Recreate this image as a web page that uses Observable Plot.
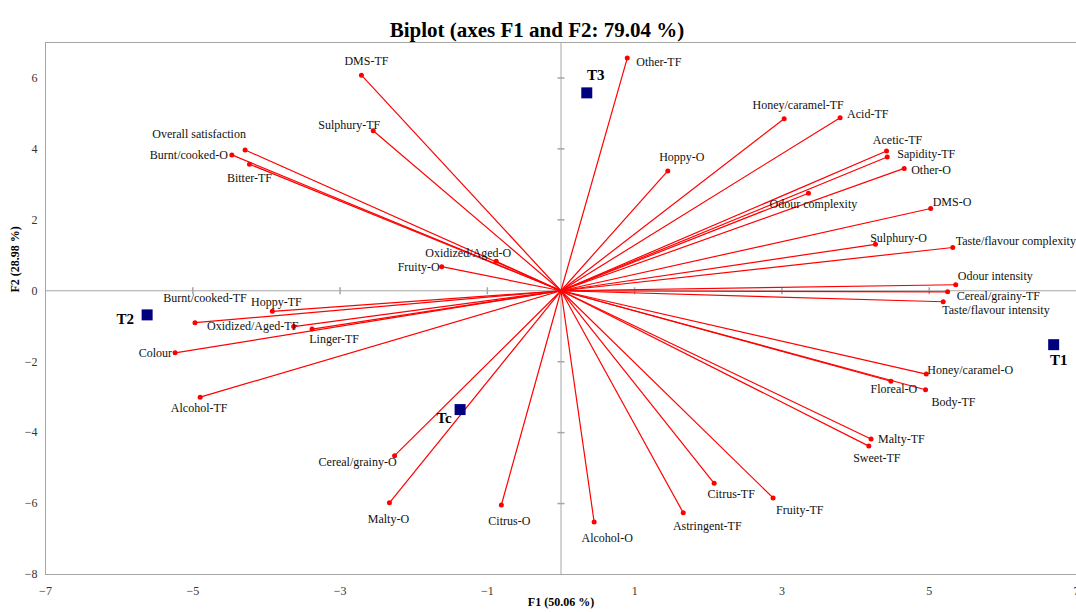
<!DOCTYPE html>
<html>
<head>
<meta charset="utf-8">
<script src="https://cdn.jsdelivr.net/npm/d3@7"></script>
<script src="https://cdn.jsdelivr.net/npm/@observablehq/plot@0.6"></script>
<style>
  html, body { margin: 0; padding: 0; background: #fff; }
  #chart svg { display: block; }
</style>
</head>
<body>
<div id="chart"></div>
<script>
// ---- Data ----
const varNames = ["DMS-TF","Sulphury-TF","Overall satisfaction","Burnt/cooked-O","Bitter-TF","Oxidized/Aged-O","Fruity-O","Hoppy-O","Other-TF","Honey/caramel-TF","Acid-TF","Acetic-TF","Sapidity-TF","Other-O","Odour complexity","DMS-O","Sulphury-O","Taste/flavour complexity","Odour intensity","Cereal/grainy-TF","Taste/flavour intensity","Honey/caramel-O","Floreal-O","Body-TF","Malty-TF","Sweet-TF","Citrus-TF","Fruity-TF","Astringent-TF","Alcohol-O","Citrus-O","Malty-O","Cereal/grainy-O","Alcohol-TF","Colour","Burnt/cooked-TF","Hoppy-TF","Oxidized/Aged-TF","Linger-TF"];
const varF1 = [-2.71,-2.55,-4.29,-4.47,-4.23,-0.88,-1.62,1.45,0.90,3.03,3.79,4.42,4.43,4.66,3.36,5.02,4.27,5.32,5.36,5.25,5.19,4.96,4.48,4.95,4.21,4.18,2.08,2.88,1.66,0.45,-0.81,-2.33,-2.26,-4.90,-5.24,-4.97,-3.92,-3.63,-3.38];
const varF2 = [6.08,4.51,3.97,3.83,3.57,0.83,0.68,3.38,6.56,4.85,4.88,3.94,3.77,3.45,2.75,2.32,1.31,1.22,0.17,-0.03,-0.31,-2.35,-2.55,-2.79,-4.18,-4.38,-5.43,-5.84,-6.26,-6.52,-6.04,-5.98,-4.65,-3.00,-1.75,-0.90,-0.58,-1.01,-1.08];

const obsNames = ["T1","T2","T3","Tc"];
const obsF1 = [6.69,-5.62,0.35,-1.37];
const obsF2 = [-1.52,-0.68,5.58,-3.35];

const xTicks = [-7,-5,-3,-1,1,3,5,7];
const yTicks = [-8,-6,-4,-2,0,2,4,6];
const axisMarksX = [-5,-3,-1,1,3,5];
const axisMarksY = [-6,-4,-2,2,4,6];

const title = "Biplot (axes F1 and F2: 79.04 %)";
const xLabel = "F1 (50.06 %)";
const yLabel = "F2 (28.98 %)";

// ---- Layout (label offsets in px, anchor) ----
const labelPlace = {
  "DMS-TF":[5,-14,"middle"], "Sulphury-TF":[-24,-6,"middle"], "Overall satisfaction":[-46,-16,"middle"],
  "Burnt/cooked-O":[-4,0,"end"], "Bitter-TF":[0,14,"middle"], "Oxidized/Aged-O":[-28,-8,"middle"],
  "Fruity-O":[-2,1,"end"], "Hoppy-O":[14,-14,"middle"], "Other-TF":[9,4,"start"],
  "Honey/caramel-TF":[14,-14,"middle"], "Acid-TF":[7,-4,"start"], "Acetic-TF":[11,-10.5,"middle"],
  "Sapidity-TF":[10,-3,"start"], "Other-O":[7,2,"start"], "Odour complexity":[5,11,"middle"],
  "DMS-O":[2,-6,"start"], "Sulphury-O":[23,-6,"middle"], "Taste/flavour complexity":[3,-6,"start"],
  "Odour intensity":[2,-9,"start"], "Cereal/grainy-TF":[9,4,"start"], "Taste/flavour intensity":[-1,8,"start"],
  "Honey/caramel-O":[1,-4,"start"], "Floreal-O":[3,8,"middle"], "Body-TF":[6,12,"start"],
  "Malty-TF":[7,0,"start"], "Sweet-TF":[8,12,"middle"], "Citrus-TF":[17,11,"middle"],
  "Fruity-TF":[3,12,"start"], "Astringent-TF":[24,13,"middle"], "Alcohol-O":[13,16,"middle"],
  "Citrus-O":[8,16,"middle"], "Malty-O":[-1,16,"middle"], "Cereal/grainy-O":[-37,6,"middle"],
  "Alcohol-TF":[-1,11,"middle"], "Colour":[-3,0,"end"], "Burnt/cooked-TF":[10,-25,"middle"],
  "Hoppy-TF":[4,-9,"middle"], "Oxidized/Aged-TF":[-41,0,"middle"], "Linger-TF":[22,10,"middle"],
  "T1":[5,16,"middle"], "T2":[-13,4,"end"], "T3":[9,-18,"middle"], "Tc":[-16,9,"middle"]
};

const W = 1076, H = 612;
const M = {top: 42, right: 0, bottom: 38, left: 45};
const xDomain = [-7, 7], yDomain = [-8, 7];
const sx = Plot.scale({x: {domain: xDomain, range: [M.left, W - M.right]}});
const sy = Plot.scale({y: {domain: yDomain, range: [H - M.bottom, M.top]}});

const vars = varNames.map((n, i) => ({name: n, f1: varF1[i], f2: varF2[i]}));
const obs = obsNames.map((n, i) => ({name: n, f1: obsF1[i], f2: obsF2[i]}));
function placed(d) {
  const p = labelPlace[d.name] || [0, 0, "middle"];
  return {...d, lx: sx.invert(sx.apply(d.f1) + p[0]), ly: sy.invert(sy.apply(d.f2) + p[1]), anchor: p[2]};
}
const varLab = vars.map(placed);
const obsLab = obs.map(placed);

const serif = "'Liberation Serif', 'Times New Roman', serif";
const gray = "#a6a6a6";
const vTick = {draw(ctx, size) { ctx.moveTo(0, -3.5); ctx.lineTo(0, 3.5); }};
const hTick = {draw(ctx, size) { ctx.moveTo(-3.5, 0); ctx.lineTo(3.5, 0); }};

const textMarks = (data, opts) => ["start", "middle", "end"].map(a =>
  Plot.text(data.filter(d => d.anchor === a), {x: "lx", y: "ly", text: "name", textAnchor: a, ...opts}));

const chart = Plot.plot({
  width: W, height: H,
  marginTop: M.top, marginRight: M.right, marginBottom: M.bottom, marginLeft: M.left,
  style: {fontFamily: serif, background: "#fff", overflow: "visible"},
  x: {domain: xDomain},
  y: {domain: yDomain},
  marks: [
    Plot.axisX({ticks: xTicks, tickSize: 0, tickPadding: 12, fontSize: 12, color: "#333", label: null}),
    Plot.axisY({ticks: yTicks, tickSize: 0, tickPadding: 8, fontSize: 12, color: "#333", label: null}),
    Plot.frame({anchor: "left", stroke: gray}),
    Plot.frame({anchor: "top", stroke: gray}),
    Plot.frame({anchor: "bottom", stroke: gray}),
    Plot.ruleX([0], {stroke: gray}),
    Plot.ruleY([0], {stroke: gray}),
    Plot.dot(axisMarksX, {x: d => d, y: 0, symbol: vTick, stroke: gray, fill: "none", r: 3}),
    Plot.dot(axisMarksY, {x: 0, y: d => d, symbol: hTick, stroke: gray, fill: "none", r: 3}),
    Plot.link(vars, {x1: 0, y1: 0, x2: "f1", y2: "f2", stroke: "#ff0000", strokeWidth: 1.2}),
    Plot.dot(vars, {x: "f1", y: "f2", r: 2.5, fill: "#ff0000"}),
    ...textMarks(varLab, {fontSize: 12, fill: "#111"}),
    Plot.dot(obs, {x: "f1", y: "f2", symbol: "square", r: 6.2, fill: "#000080"}),
    ...textMarks(obsLab, {fontSize: 15, fontWeight: "bold", fill: "#000"}),
    Plot.text([title], {frameAnchor: "top", dy: -20, fontSize: 21, fontWeight: "bold", fill: "#000", dx: -24}),
    Plot.text([xLabel], {frameAnchor: "bottom", dy: 31, fontSize: 12, fontWeight: "bold", fill: "#000"}),
    Plot.text([yLabel], {frameAnchor: "left", dx: -30, dy: -16, rotate: -90, fontSize: 12, fontWeight: "bold", fill: "#000"})
  ]
});
document.getElementById("chart").appendChild(chart);
</script>
</body>
</html>
